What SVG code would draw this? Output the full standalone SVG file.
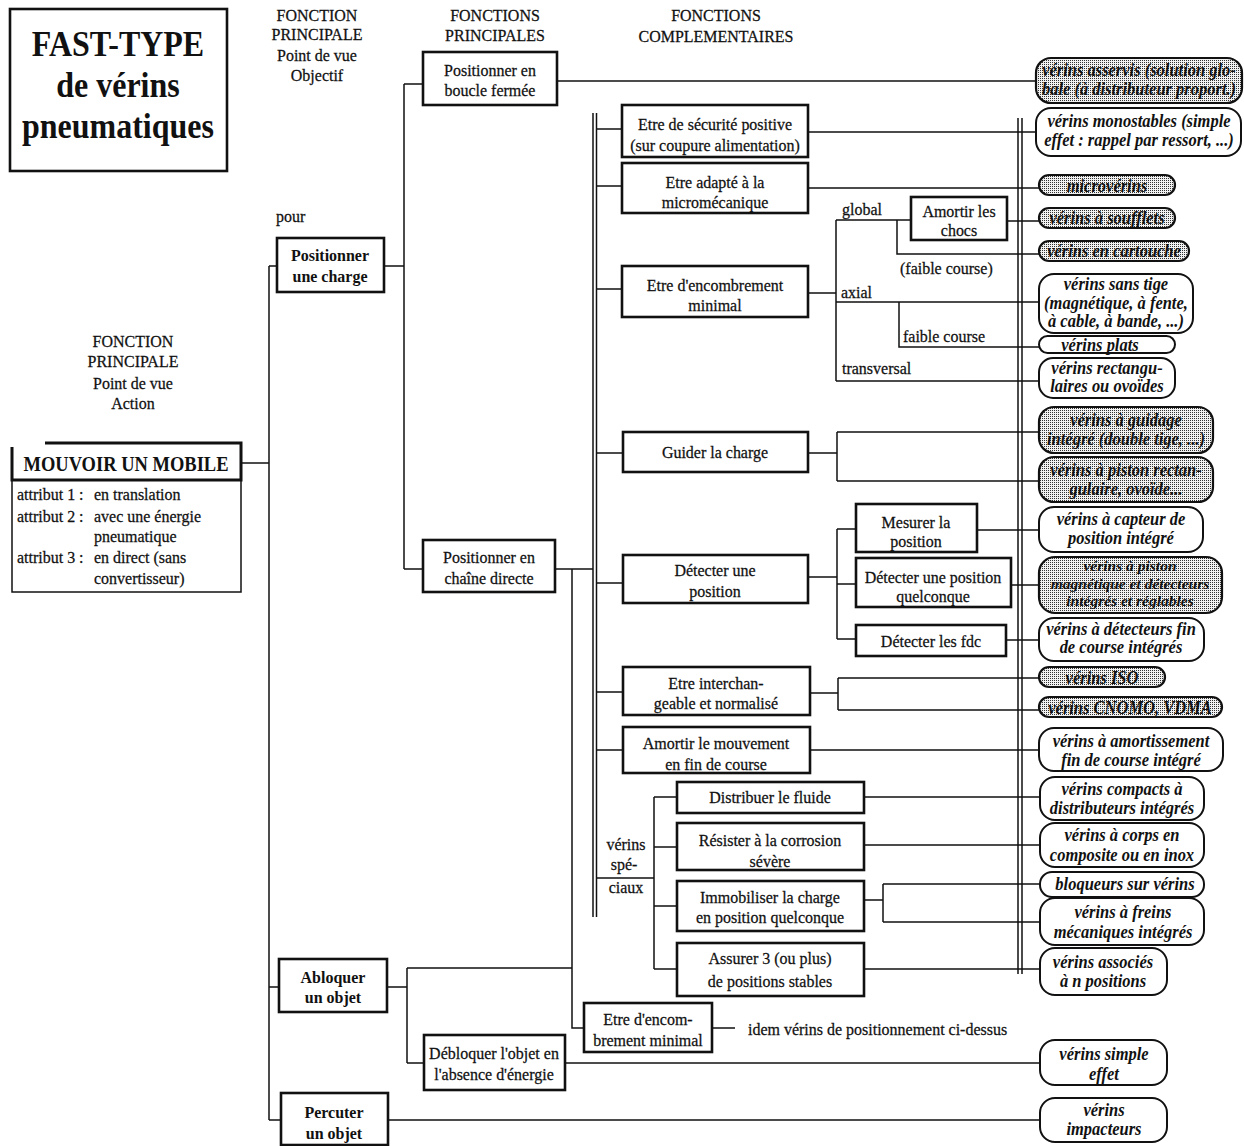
<svg xmlns="http://www.w3.org/2000/svg" width="1244" height="1146" viewBox="0 0 1244 1146">
<style>
text { font-family: "Liberation Serif", "Times New Roman", serif; font-size: 16px; fill: #111; stroke: #111; stroke-width: 0.25px; transform-box: fill-box; transform-origin: center; transform: scaleY(1.1); }
.c { text-anchor: middle; }
.b { font-weight: bold; stroke-width: 0; }
.i { font-style: italic; font-weight: bold; font-size: 16.5px; stroke-width: 0; }
.n { font-size: 15.5px; transform: none; }
.t { font-size: 32px; font-weight: bold; stroke-width: 0; transform: scaleY(1.15); }
.m { font-size: 18.5px; font-weight: bold; stroke-width: 0; }
.box { fill: #fff; stroke: #111; stroke-width: 2.6; }
.thin { fill: #fff; stroke: #111; stroke-width: 1.5; }
.rn { fill: #fff; stroke: #111; stroke-width: 2; }
.sh { fill: url(#dots); stroke: #111; stroke-width: 2.2; }
.ln { stroke: #111; stroke-width: 1.5; fill: none; }
</style>
<defs>
<pattern id="dots" width="2" height="2" patternUnits="userSpaceOnUse"><rect width="2" height="2" fill="#f2f2f2"/><rect width="1" height="1" fill="#333"/></pattern>
</defs>
<rect width="1244" height="1146" fill="#fff"/>

<g id="title">
<rect x="10" y="9" width="217" height="162" fill="#fff" stroke="#111" stroke-width="2.6"/>
<text class="t c" x="118" y="54">FAST-TYPE</text>
<text class="t c" x="118" y="95.5">de vérins</text>
<text class="t c" x="118" y="136.5">pneumatiques</text>
</g>

<g id="headers">
<text class="c" x="317" y="20">FONCTION</text>
<text class="c" x="317" y="39">PRINCIPALE</text>
<text class="c" x="317" y="60">Point de vue</text>
<text class="c" x="317" y="80">Objectif</text>
<text class="c" x="495" y="20">FONCTIONS</text>
<text class="c" x="495" y="40">PRINCIPALES</text>
<text class="c" x="716" y="20">FONCTIONS</text>
<text class="c" x="716" y="41">COMPLEMENTAIRES</text>
<text class="c" x="133" y="346">FONCTION</text>
<text class="c" x="133" y="366">PRINCIPALE</text>
<text class="c" x="133" y="388">Point de vue</text>
<text class="c" x="133" y="408">Action</text>
<text x="276" y="221">pour</text>
</g>

<g id="connectors">
<path class="ln" d="M241,463 H269 M269,266 V1120 M269,266 H277 M269,987 H279 M269,1120 H281 M384,266 H404 M404,84 V569 M404,84 H423 M404,569 H423 M557,81 H1036 M555,569 H593 M572,569 V1028 H584 M387,987 H407 M407,968 V1063 M407,968 H572 M407,1063 H424 M565,1063 H1040 M388,1120 H1040"/>
<path class="ln" d="M593,113 V917 M596.5,113 V917 M596.5,129 H622 M596.5,186 H622 M596.5,289 H622 M596.5,453 H622 M596.5,583 H622 M596.5,692 H622 M596.5,750 H622 M597,878 H654 M654,797 V969 M654,797 H677 M654,847 H677 M654,906 H677 M654,969 H677"/>
<path class="ln" d="M1018,118 V974 M1022,118 V974"/>
<path class="ln" d="M808,132 H1036 M808,188 H1039 M808,293 H836 M836,220 V381 M836,220 H911 M897,220 V254 H1039 M1007,221 H1039 M836,302 H1039 M899,302 V347 H1039 M836,381 H1039"/>
<path class="ln" d="M808,453 H837 M837,432 V481 M837,432 H1039 M837,481 H1039 M808,577 H837 M837,529 V639 M837,529 H856 M837,584 H856 M837,639 H856 M977,530 H1039 M1011,585 H1039 M1006,640 H1039"/>
<path class="ln" d="M810,693 H838 M838,678 V710 M838,678 H1039 M838,710 H1039 M810,750 H1039 M864,797 H1040 M864,845 H1040 M864,900 H883 M883,884 V922 M883,884 H1040 M883,922 H1040 M864,969 H1040 M712,1028 H735"/>
</g>

<g id="labels">
<text x="842" y="214">global</text>
<text x="900" y="273">(faible course)</text>
<text x="841" y="297">axial</text>
<text x="903" y="341">faible course</text>
<text x="842" y="373">transversal</text>
<text class="c" x="626" y="849">vérins</text>
<text class="c" x="624" y="869">spé-</text>
<text class="c" x="626" y="892">ciaux</text>
<text x="748" y="1034">idem vérins de positionnement ci-dessus</text>
</g>

<g id="mouvoir">
<rect class="thin" x="12" y="480" width="229" height="112"/>
<rect x="12" y="444" width="229" height="36" fill="#fff" stroke="none"/>
<path d="M12,447 V480 H241 V443 H45" fill="none" stroke="#111" stroke-width="3"/>
<text class="m c" x="126" y="470">MOUVOIR UN MOBILE</text>
<text x="17" y="499">attribut 1 :</text><text x="94" y="499">en translation</text>
<text x="17" y="521">attribut 2 :</text><text x="94" y="521">avec une énergie</text>
<text x="94" y="541">pneumatique</text>
<text x="17" y="562">attribut 3 :</text><text x="94" y="562">en direct (sans</text>
<text x="94" y="583">convertisseur)</text>
</g>

<g id="positionner-charge"><rect class="box" x="277" y="238" width="107" height="54"/><text class="b c" x="330" y="260">Positionner</text><text class="b c" x="330" y="281">une charge</text></g>
<g id="abloquer"><rect class="box" x="279" y="959" width="108" height="53"/><text class="b c" x="333" y="982">Abloquer</text><text class="b c" x="333" y="1002">un objet</text></g>
<g id="percuter"><rect class="box" x="281" y="1093" width="107" height="52"/><text class="b c" x="334" y="1117">Percuter</text><text class="b c" x="334" y="1138">un objet</text></g>

<g id="boucle"><rect class="box" x="423" y="52" width="134" height="53"/><text class="c" x="490" y="75">Positionner en</text><text class="c" x="490" y="95">boucle fermée</text></g>
<g id="chaine"><rect class="box" x="423" y="540" width="132" height="52"/><text class="c" x="489" y="562">Positionner en</text><text class="c" x="489" y="583">chaîne directe</text></g>
<g id="debloquer"><rect class="box" x="424" y="1035" width="141" height="55"/><text class="c" x="494" y="1058">Débloquer l'objet en</text><text class="c" x="494" y="1079">l'absence d'énergie</text></g>

<g id="securite"><rect class="box" x="622" y="105" width="186" height="52"/><text class="c" x="715" y="129">Etre de sécurité positive</text><text class="c" x="715" y="150">(sur coupure alimentation)</text></g>
<g id="adapte"><rect class="box" x="622" y="163" width="186" height="50"/><text class="c" x="715" y="187">Etre adapté à la</text><text class="c" x="715" y="207">micromécanique</text></g>
<g id="encombrement"><rect class="box" x="622" y="266" width="186" height="51"/><text class="c" x="715" y="290">Etre d'encombrement</text><text class="c" x="715" y="310">minimal</text></g>
<g id="guider"><rect class="box" x="623" y="432" width="185" height="40"/><text class="c" x="715" y="457">Guider la charge</text></g>
<g id="detecter"><rect class="box" x="623" y="555" width="185" height="48"/><text class="c" x="715" y="575">Détecter une</text><text class="c" x="715" y="596">position</text></g>
<g id="interchangeable"><rect class="box" x="623" y="667" width="187" height="48"/><text class="c" x="716" y="688">Etre interchan-</text><text class="c" x="716" y="708">geable et normalisé</text></g>
<g id="amortir-mvt"><rect class="box" x="623" y="727" width="187" height="46"/><text class="c" x="716" y="748">Amortir le mouvement</text><text class="c" x="716" y="769">en fin de course</text></g>

<g id="chocs"><rect class="box" x="911" y="197" width="96" height="43"/><text class="c" x="959" y="216">Amortir les</text><text class="c" x="959" y="235">chocs</text></g>
<g id="mesurer"><rect class="box" x="856" y="504" width="121" height="48"/><text class="c" x="916" y="527">Mesurer la</text><text class="c" x="916" y="546">position</text></g>
<g id="quelconque"><rect class="box" x="856" y="558" width="155" height="49"/><text class="c" x="933" y="582">Détecter une position</text><text class="c" x="933" y="601">quelconque</text></g>
<g id="fdc"><rect class="box" x="856" y="625" width="150" height="31"/><text class="c" x="931" y="646">Détecter les fdc</text></g>

<g id="distribuer"><rect class="box" x="677" y="782" width="187" height="31"/><text class="c" x="770" y="802">Distribuer le fluide</text></g>
<g id="resister"><rect class="box" x="677" y="823" width="187" height="47"/><text class="c" x="770" y="845">Résister à la corrosion</text><text class="c" x="770" y="866">sévère</text></g>
<g id="immobiliser"><rect class="box" x="677" y="881" width="187" height="50"/><text class="c" x="770" y="902">Immobiliser la charge</text><text class="c" x="770" y="922">en position quelconque</text></g>
<g id="assurer"><rect class="box" x="677" y="943" width="187" height="53"/><text class="c" x="770" y="963">Assurer 3 (ou plus)</text><text class="c" x="770" y="986">de positions stables</text></g>
<g id="encombrement2"><rect class="box" x="584" y="1003" width="128" height="49"/><text class="c" x="648" y="1024">Etre d'encom-</text><text class="c" x="648" y="1045">brement minimal</text></g>

<g id="r-asservis"><rect class="sh" x="1036" y="58" width="206" height="45" rx="15"/><text class="i c" x="1139" y="75">vérins asservis (solution glo-</text><text class="i c" x="1139" y="94">bale (à distributeur proport.)</text></g>
<g id="r-monostables"><rect class="rn" x="1036" y="108" width="205" height="48" rx="15"/><text class="i c" x="1139" y="126">vérins monostables (simple</text><text class="i c" x="1139" y="145">effet : rappel par ressort, ...)</text></g>
<g id="r-micro"><rect class="sh" x="1039" y="175" width="136" height="20" rx="10"/><text class="i c" x="1107" y="191">microvérins</text></g>
<g id="r-soufflets"><rect class="sh" x="1039" y="208" width="136" height="20" rx="10"/><text class="i c" x="1107" y="223">vérins à soufflets</text></g>
<g id="r-cartouche"><rect class="sh" x="1039" y="241" width="150" height="20" rx="10" stroke-width="2.8"/><text class="i c" x="1114" y="256">vérins en cartouche</text></g>
<g id="r-sanstige"><rect class="rn" x="1039" y="274" width="154" height="59" rx="15"/><text class="i c" x="1116" y="289">vérins sans tige</text><text class="i c" x="1116" y="308">(magnétique,  à fente,</text><text class="i c" x="1116" y="326">à cable, à bande, ...)</text></g>
<g id="r-plats"><rect class="rn" x="1039" y="336" width="136" height="17" rx="8.5"/><text class="i c" x="1100" y="350">vérins plats</text></g>
<g id="r-rect"><rect class="rn" x="1039" y="358" width="136" height="40" rx="14"/><text class="i c" x="1107" y="373">vérins rectangu-</text><text class="i c" x="1107" y="391">laires ou ovoïdes</text></g>
<g id="r-guidage"><rect class="sh" x="1039" y="407" width="174" height="46" rx="15"/><text class="i c" x="1126" y="425">vérins à guidage</text><text class="i c" x="1126" y="444">intégré (double tige, ...)</text></g>
<g id="r-pistonrect"><rect class="sh" x="1039" y="457" width="174" height="45" rx="15"/><text class="i c" x="1126" y="475">vérins à piston rectan-</text><text class="i c" x="1126" y="494">gulaire, ovoïde...</text></g>
<g id="r-capteur"><rect class="rn" x="1039" y="507" width="164" height="45" rx="15"/><text class="i c" x="1121" y="524">vérins à capteur de</text><text class="i c" x="1121" y="543">position intégré</text></g>
<g id="r-magnetique"><rect class="sh" x="1039" y="557" width="183" height="56" rx="16"/><text class="i n c" x="1130" y="571">vérins à piston</text><text class="i n c" x="1130" y="588.5">magnétique et  détecteurs</text><text class="i n c" x="1130" y="606">intégrés et réglables</text></g>
<g id="r-fincourse"><rect class="rn" x="1039" y="618" width="165" height="43" rx="15"/><text class="i c" x="1121" y="634">vérins à détecteurs fin</text><text class="i c" x="1121" y="652">de course intégrés</text></g>
<g id="r-iso"><rect class="sh" x="1039" y="667" width="126" height="20" rx="10"/><text class="i c" x="1102" y="683">vérins ISO</text></g>
<g id="r-cnomo"><rect class="sh" x="1039" y="697" width="183" height="20" rx="10"/><text class="i c" x="1130" y="713">vérins CNOMO, VDMA</text></g>
<g id="r-amortissement"><rect class="rn" x="1039" y="728" width="184" height="43" rx="15"/><text class="i c" x="1131" y="746">vérins à amortissement</text><text class="i c" x="1131" y="765">fin de course intégré</text></g>
<g id="r-compacts"><rect class="rn" x="1040" y="777" width="164" height="43" rx="15"/><text class="i c" x="1122" y="794">vérins compacts à</text><text class="i c" x="1122" y="813">distributeurs intégrés</text></g>
<g id="r-corps"><rect class="rn" x="1040" y="823" width="164" height="44" rx="15"/><text class="i c" x="1122" y="840">vérins à corps en</text><text class="i c" x="1122" y="860">composite ou en inox</text></g>
<g id="r-bloqueurs"><rect class="rn" x="1040" y="872" width="164" height="25" rx="12"/><text class="i c" x="1125" y="889">bloqueurs sur vérins</text></g>
<g id="r-freins"><rect class="rn" x="1040" y="898" width="164" height="47" rx="15"/><text class="i c" x="1123" y="917">vérins à freins</text><text class="i c" x="1123" y="937">mécaniques intégrés</text></g>
<g id="r-associes"><rect class="rn" x="1040" y="948" width="127" height="47" rx="15"/><text class="i c" x="1103" y="967">vérins associés</text><text class="i c" x="1103" y="986">à n positions</text></g>
<g id="r-simple"><rect class="rn" x="1040" y="1040" width="127" height="45" rx="15"/><text class="i c" x="1104" y="1059">vérins simple</text><text class="i c" x="1104" y="1079">effet</text></g>
<g id="r-impacteurs"><rect class="rn" x="1040" y="1098" width="127" height="44" rx="15"/><text class="i c" x="1104" y="1115">vérins</text><text class="i c" x="1104" y="1134">impacteurs</text></g>
</svg>
